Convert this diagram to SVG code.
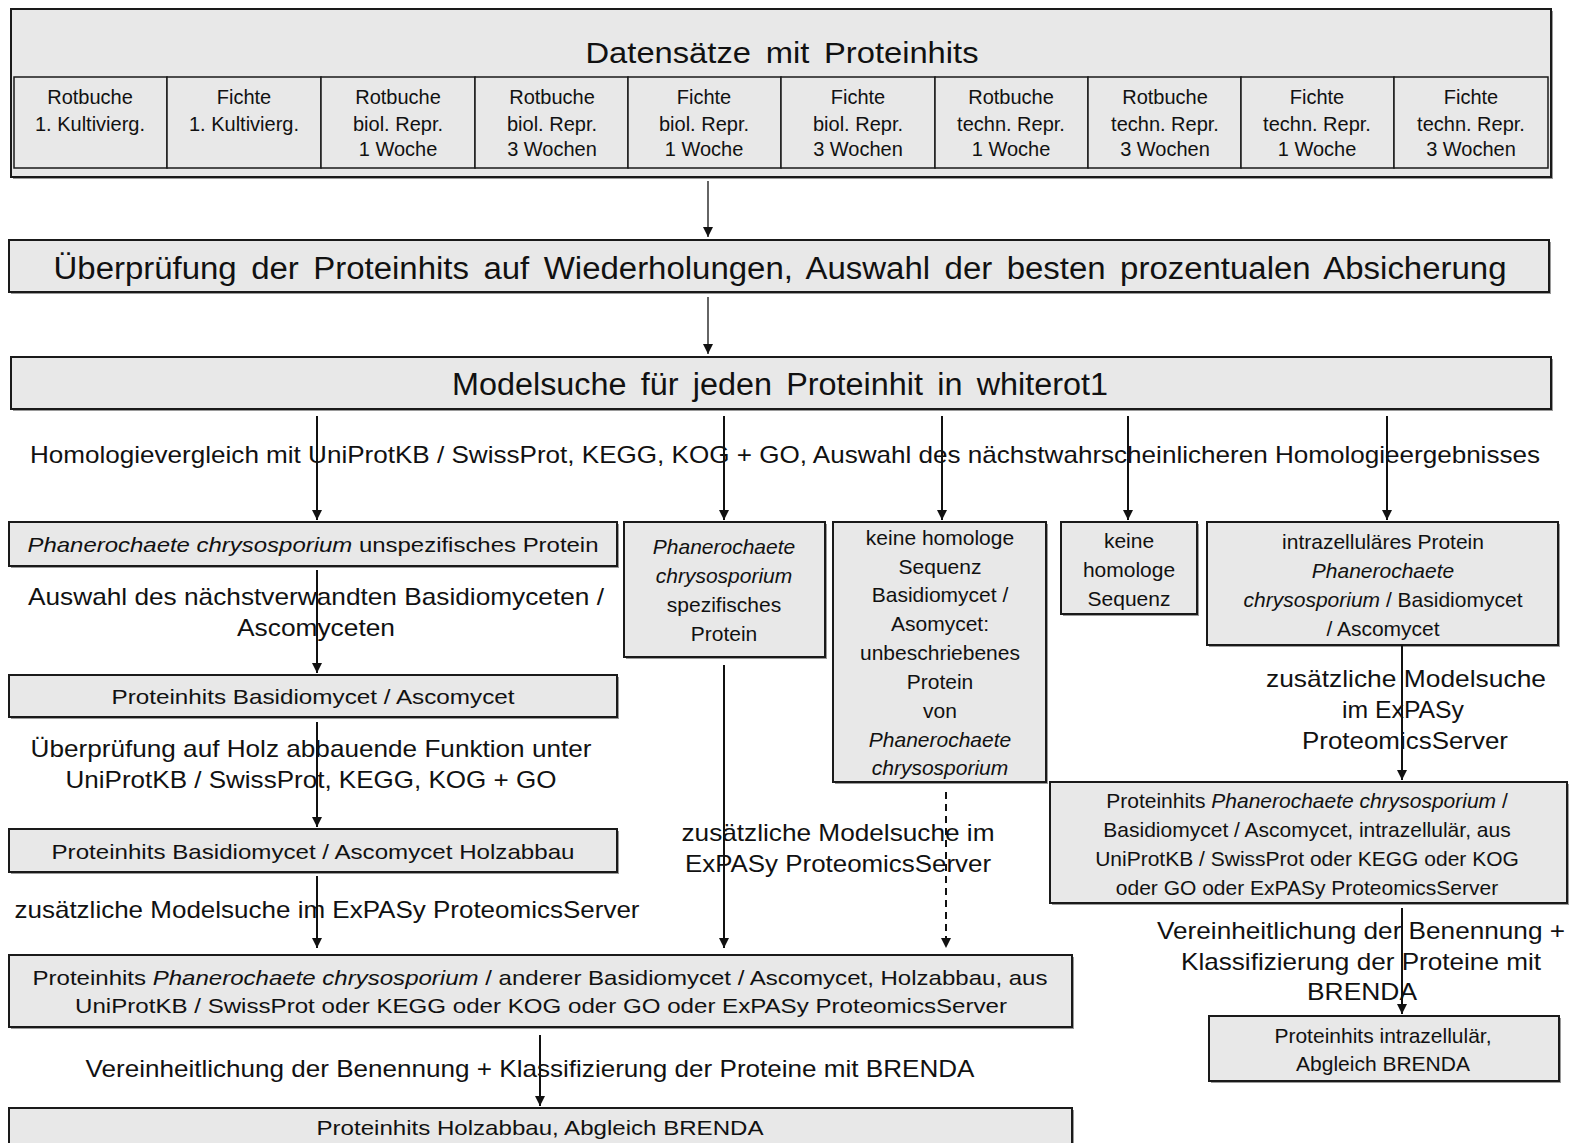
<svg xmlns="http://www.w3.org/2000/svg" width="1569" height="1143" viewBox="0 0 1569 1143">
<style>
text{font-family:"Liberation Sans",Arial,sans-serif;fill:#111;text-anchor:middle}
.box{fill:#e8e8e8;stroke:#1a1a1a;stroke-width:2}
.sh{fill:#9a9a9a}
.cell{fill:#e8e8e8;stroke:#1a1a1a;stroke-width:1.5}
.c{font-size:20px}
.b{font-size:21px}
.l{font-size:24px}
.big{font-size:31px}
.i{font-style:italic}
.con{stroke:#111;stroke-width:2;fill:none}
.thin{stroke-width:1.3}
.dash{stroke-dasharray:7 5}
</style>
<defs>
<marker id="ah" markerUnits="userSpaceOnUse" markerWidth="10" markerHeight="11" refX="10" refY="5" orient="auto">
<path d="M0,0 L10,5 L0,10 z" fill="#111"/>
</marker>
</defs>

<g id="n-datensaetze">
<rect class="sh" x="13" y="11" width="1540" height="168"/>
<rect class="box" x="11" y="9" width="1540" height="168"/>
<text x="782" y="63" style="font-size:29px;word-spacing:5px" textLength="393" lengthAdjust="spacingAndGlyphs">Datensätze mit Proteinhits</text>
<rect class="cell" x="14" y="77" width="153" height="91"/>
<rect class="cell" x="167" y="77" width="154" height="91"/>
<rect class="cell" x="321" y="77" width="154" height="91"/>
<rect class="cell" x="475" y="77" width="153" height="91"/>
<rect class="cell" x="628" y="77" width="153" height="91"/>
<rect class="cell" x="781" y="77" width="154" height="91"/>
<rect class="cell" x="935" y="77" width="153" height="91"/>
<rect class="cell" x="1088" y="77" width="153" height="91"/>
<rect class="cell" x="1241" y="77" width="153" height="91"/>
<rect class="cell" x="1394" y="77" width="154" height="91"/>
<text class="c" x="90" y="104">Rotbuche</text><text class="c" x="90" y="131">1. Kultivierg.</text>
<text class="c" x="244" y="104">Fichte</text><text class="c" x="244" y="131">1. Kultivierg.</text>
<text class="c" x="398" y="104">Rotbuche</text><text class="c" x="398" y="131">biol. Repr.</text><text class="c" x="398" y="156">1 Woche</text>
<text class="c" x="552" y="104">Rotbuche</text><text class="c" x="552" y="131">biol. Repr.</text><text class="c" x="552" y="156">3 Wochen</text>
<text class="c" x="704" y="104">Fichte</text><text class="c" x="704" y="131">biol. Repr.</text><text class="c" x="704" y="156">1 Woche</text>
<text class="c" x="858" y="104">Fichte</text><text class="c" x="858" y="131">biol. Repr.</text><text class="c" x="858" y="156">3 Wochen</text>
<text class="c" x="1011" y="104">Rotbuche</text><text class="c" x="1011" y="131">techn. Repr.</text><text class="c" x="1011" y="156">1 Woche</text>
<text class="c" x="1165" y="104">Rotbuche</text><text class="c" x="1165" y="131">techn. Repr.</text><text class="c" x="1165" y="156">3 Wochen</text>
<text class="c" x="1317" y="104">Fichte</text><text class="c" x="1317" y="131">techn. Repr.</text><text class="c" x="1317" y="156">1 Woche</text>
<text class="c" x="1471" y="104">Fichte</text><text class="c" x="1471" y="131">techn. Repr.</text><text class="c" x="1471" y="156">3 Wochen</text>
</g>

<g id="n-ueberpruefung">
<rect class="sh" x="11" y="242" width="1540" height="52"/>
<rect class="box" x="9" y="240" width="1540" height="52"/>
<text class="big" x="780" y="279" style="word-spacing:5px" textLength="1453" lengthAdjust="spacingAndGlyphs">Überprüfung der Proteinhits auf Wiederholungen, Auswahl der besten prozentualen Absicherung</text>
</g>

<g id="n-modelsuche">
<rect class="sh" x="13" y="359" width="1540" height="52"/>
<rect class="box" x="11" y="357" width="1540" height="52"/>
<text class="big" x="780" y="395" style="word-spacing:5px" textLength="656" lengthAdjust="spacingAndGlyphs">Modelsuche für jeden Proteinhit in whiterot1</text>
</g>

<g id="n-unspez">
<rect class="sh" x="11" y="524" width="608" height="44"/>
<rect class="box" x="9" y="522" width="608" height="44"/>
<text class="b" x="313" y="552" textLength="571" lengthAdjust="spacingAndGlyphs"><tspan class="i">Phanerochaete chrysosporium</tspan> unspezifisches Protein</text>
</g>

<g id="n-spez">
<rect class="sh" x="626" y="524" width="201" height="135"/>
<rect class="box" x="624" y="522" width="201" height="135"/>
<text class="b i" x="724" y="554">Phanerochaete</text>
<text class="b i" x="724" y="583">chrysosporium</text>
<text class="b" x="724" y="612">spezifisches</text>
<text class="b" x="724" y="641">Protein</text>
</g>

<g id="n-keinehom-basidio">
<rect class="sh" x="835" y="524" width="213" height="260"/>
<rect class="box" x="833" y="522" width="213" height="260"/>
<text class="b" x="940" y="545">keine homologe</text>
<text class="b" x="940" y="574">Sequenz</text>
<text class="b" x="940" y="602">Basidiomycet /</text>
<text class="b" x="940" y="631">Asomycet:</text>
<text class="b" x="940" y="660">unbeschriebenes</text>
<text class="b" x="940" y="689">Protein</text>
<text class="b" x="940" y="718">von</text>
<text class="b i" x="940" y="747">Phanerochaete</text>
<text class="b i" x="940" y="775">chrysosporium</text>
</g>

<g id="n-keinehom">
<rect class="sh" x="1063" y="524" width="136" height="92"/>
<rect class="box" x="1061" y="522" width="136" height="92"/>
<text class="b" x="1129" y="548">keine</text>
<text class="b" x="1129" y="577">homologe</text>
<text class="b" x="1129" y="606">Sequenz</text>
</g>

<g id="n-intra">
<rect class="sh" x="1209" y="524" width="351" height="123"/>
<rect class="box" x="1207" y="522" width="351" height="123"/>
<text class="b" x="1383" y="549">intrazelluläres Protein</text>
<text class="b i" x="1383" y="578">Phanerochaete</text>
<text class="b" x="1383" y="607"><tspan class="i">chrysosporium</tspan> / Basidiomycet</text>
<text class="b" x="1383" y="636">/ Ascomycet</text>
</g>

<g id="n-basidio">
<rect class="sh" x="11" y="677" width="608" height="42"/>
<rect class="box" x="9" y="675" width="608" height="42"/>
<text class="b" x="313" y="704" textLength="403" lengthAdjust="spacingAndGlyphs">Proteinhits Basidiomycet / Ascomycet</text>
</g>

<g id="n-basidio-holz">
<rect class="sh" x="11" y="831" width="608" height="43"/>
<rect class="box" x="9" y="829" width="608" height="43"/>
<text class="b" x="313" y="859" textLength="523" lengthAdjust="spacingAndGlyphs">Proteinhits Basidiomycet / Ascomycet Holzabbau</text>
</g>

<g id="n-holz-aus">
<rect class="sh" x="11" y="957" width="1063" height="72"/>
<rect class="box" x="9" y="955" width="1063" height="72"/>
<text class="b" x="540" y="985" textLength="1015" lengthAdjust="spacingAndGlyphs">Proteinhits <tspan class="i">Phanerochaete chrysosporium</tspan> / anderer Basidiomycet / Ascomycet, Holzabbau, aus</text>
<text class="b" x="541" y="1013" textLength="932" lengthAdjust="spacingAndGlyphs">UniProtKB / SwissProt oder KEGG oder KOG oder GO oder ExPASy ProteomicsServer</text>
</g>

<g id="n-holz-brenda">
<rect class="sh" x="11" y="1110" width="1063" height="40"/>
<rect class="box" x="9" y="1108" width="1063" height="40"/>
<text class="b" x="540" y="1135" textLength="447" lengthAdjust="spacingAndGlyphs">Proteinhits Holzabbau, Abgleich BRENDA</text>
</g>

<g id="n-intra-aus">
<rect class="sh" x="1052" y="784" width="517" height="121"/>
<rect class="box" x="1050" y="782" width="517" height="121"/>
<text class="b" x="1307" y="808">Proteinhits <tspan class="i">Phanerochaete chrysosporium</tspan> /</text>
<text class="b" x="1307" y="837">Basidiomycet / Ascomycet, intrazellulär, aus</text>
<text class="b" x="1307" y="866">UniProtKB / SwissProt oder KEGG oder KOG</text>
<text class="b" x="1307" y="895">oder GO oder ExPASy ProteomicsServer</text>
</g>

<g id="n-intra-brenda">
<rect class="sh" x="1211" y="1018" width="350" height="65"/>
<rect class="box" x="1209" y="1016" width="350" height="65"/>
<text class="b" x="1383" y="1043">Proteinhits intrazellulär,</text>
<text class="b" x="1383" y="1071">Abgleich BRENDA</text>
</g>

<g id="labels">
<text class="l" x="785" y="463" textLength="1510" lengthAdjust="spacingAndGlyphs">Homologievergleich mit UniProtKB / SwissProt, KEGG, KOG + GO, Auswahl des nächstwahrscheinlicheren Homologieergebnisses</text>
<text class="l" x="316" y="605" textLength="576" lengthAdjust="spacingAndGlyphs">Auswahl des nächstverwandten Basidiomyceten /</text>
<text class="l" x="316" y="636" textLength="158" lengthAdjust="spacingAndGlyphs">Ascomyceten</text>
<text class="l" x="311" y="757" textLength="561" lengthAdjust="spacingAndGlyphs">Überprüfung auf Holz abbauende Funktion unter</text>
<text class="l" x="311" y="788" textLength="491" lengthAdjust="spacingAndGlyphs">UniProtKB / SwissProt, KEGG, KOG + GO</text>
<text class="l" x="327" y="918" textLength="625" lengthAdjust="spacingAndGlyphs">zusätzliche Modelsuche im ExPASy ProteomicsServer</text>
<text class="l" x="530" y="1077" textLength="889" lengthAdjust="spacingAndGlyphs">Vereinheitlichung der Benennung + Klassifizierung der Proteine mit BRENDA</text>
<text class="l" x="838" y="841" textLength="313" lengthAdjust="spacingAndGlyphs">zusätzliche Modelsuche im</text>
<text class="l" x="838" y="872" textLength="306" lengthAdjust="spacingAndGlyphs">ExPASy ProteomicsServer</text>
<text class="l" x="1406" y="687" textLength="280" lengthAdjust="spacingAndGlyphs">zusätzliche Modelsuche</text>
<text class="l" x="1403" y="718" textLength="122" lengthAdjust="spacingAndGlyphs">im ExPASy</text>
<text class="l" x="1405" y="749" textLength="206" lengthAdjust="spacingAndGlyphs">ProteomicsServer</text>
<text class="l" x="1361" y="939" textLength="408" lengthAdjust="spacingAndGlyphs">Vereinheitlichung der Benennung +</text>
<text class="l" x="1361" y="970" textLength="360" lengthAdjust="spacingAndGlyphs">Klassifizierung der Proteine mit</text>
<text class="l" x="1362" y="1000" textLength="110" lengthAdjust="spacingAndGlyphs">BRENDA</text>
</g>

<g id="connectors">
<path class="con thin" d="M708,181 V237" marker-end="url(#ah)"/>
<path class="con thin" d="M708,297 V354" marker-end="url(#ah)"/>
<path class="con" d="M317,416 V520" marker-end="url(#ah)"/>
<path class="con" d="M724,416 V520" marker-end="url(#ah)"/>
<path class="con" d="M942,416 V520" marker-end="url(#ah)"/>
<path class="con" d="M1128,416 V520" marker-end="url(#ah)"/>
<path class="con" d="M1387,416 V520" marker-end="url(#ah)"/>
<path class="con" d="M317,570 V673" marker-end="url(#ah)"/>
<path class="con" d="M317,722 V827" marker-end="url(#ah)"/>
<path class="con" d="M317,876 V948" marker-end="url(#ah)"/>
<path class="con" d="M724,665 V948" marker-end="url(#ah)"/>
<path class="con dash" d="M946,792 V948" marker-end="url(#ah)"/>
<path class="con" d="M1402,645 V780" marker-end="url(#ah)"/>
<path class="con" d="M1402,908 V1014" marker-end="url(#ah)"/>
<path class="con" d="M540,1035 V1106" marker-end="url(#ah)"/>
</g>
</svg>
